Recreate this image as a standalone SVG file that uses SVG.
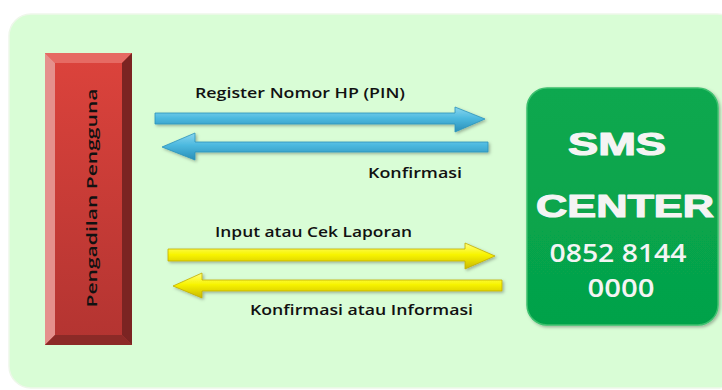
<svg xmlns="http://www.w3.org/2000/svg" width="722" height="390" viewBox="0 0 722 390">
<defs>
<linearGradient id="blue" x1="0" y1="0" x2="0" y2="1">
<stop offset="0" stop-color="#8ad6ef"/>
<stop offset="0.45" stop-color="#4cb9df"/>
<stop offset="1" stop-color="#2a8fb8"/>
</linearGradient>
<linearGradient id="yellow" x1="0" y1="0" x2="0" y2="1">
<stop offset="0" stop-color="#ffff80"/>
<stop offset="0.45" stop-color="#f8f400"/>
<stop offset="1" stop-color="#c9b800"/>
</linearGradient>
<linearGradient id="red" x1="0" y1="0" x2="0" y2="1">
<stop offset="0" stop-color="#dc433c"/>
<stop offset="1" stop-color="#b33431"/>
</linearGradient>
<linearGradient id="green" x1="0" y1="0" x2="0" y2="1">
<stop offset="0" stop-color="#0aa84f"/>
<stop offset="1" stop-color="#05a24a"/>
</linearGradient>
<filter id="sh" x="-10%" y="-10%" width="130%" height="130%">
<feDropShadow dx="1.5" dy="1.5" stdDeviation="1.5" flood-color="#000" flood-opacity="0.3"/>
</filter>
</defs>
<style>
.lbl{font-family:"Open Sans","Liberation Sans",sans-serif;font-weight:600;font-size:15px;fill:#111}
.bl{fill:url(#blue);stroke:#2b93bb;stroke-width:0.8;filter:url(#sh)}
.yl{fill:url(#yellow);stroke:#c2ad00;stroke-width:0.8;filter:url(#sh)}
.big{font-family:"Liberation Sans",Arial,sans-serif;font-weight:900;font-size:32px;fill:#f4f4f4;stroke:#f4f4f4;stroke-width:1.2;stroke-linejoin:round}
.num{font-family:"Open Sans","Liberation Sans",sans-serif;font-weight:600;font-size:25px;fill:#f4f4f4}
</style>
<rect width="722" height="390" fill="#ffffff"/>
<rect x="9" y="14" width="730" height="374" rx="22" fill="#d9fdd6" stroke="#eef7ea" stroke-width="1.5"/>

<g id="pengadilan-pengguna">
<rect x="45" y="53" width="87" height="292" fill="url(#red)"/>
<polygon points="45,53 132,53 122,63 55,63" fill="#e66a63"/>
<polygon points="45,53 55,63 55,335 45,345" fill="#e5908c"/>
<polygon points="132,53 132,345 122,335 122,63" fill="#7b2422"/>
<polygon points="45,345 55,335 122,335 132,345" fill="#8c2a27"/>
<text class="lbl" transform="translate(97,198) rotate(-90)" text-anchor="middle" font-size="20" textLength="219" lengthAdjust="spacingAndGlyphs">Pengadilan Pengguna</text>
</g>

<g id="sms-center">
<rect x="527" y="88" width="191" height="237" rx="20" fill="url(#green)" stroke="#3cc06e" stroke-width="1.5" filter="url(#sh)"/>
<text class="big" x="617" y="155" text-anchor="middle" textLength="98" lengthAdjust="spacingAndGlyphs">SMS</text>
<text class="big" x="625" y="217" text-anchor="middle" textLength="178" lengthAdjust="spacingAndGlyphs">CENTER</text>
<text class="num" x="618" y="262" text-anchor="middle" textLength="137" lengthAdjust="spacingAndGlyphs">0852 8144</text>
<text class="num" x="621" y="297" text-anchor="middle" textLength="67" lengthAdjust="spacingAndGlyphs">0000</text>
</g>

<g id="connectors">
<polygon class="bl" points="155,113 455,113 455,107 485,119 455,132 455,124 155,124"/>
<polygon class="bl" points="488,142 195,142 195,133 162,147 195,160 195,152 488,152"/>
<polygon class="yl" points="168,249 465,249 465,243 495,256 465,269 465,261 168,261"/>
<polygon class="yl" points="502,280 202,280 202,273 173,286 202,298 202,291 502,291"/>
<text class="lbl" x="195" y="98" textLength="210" lengthAdjust="spacingAndGlyphs">Register Nomor HP (PIN)</text>
<text class="lbl" x="368" y="178" textLength="94" lengthAdjust="spacingAndGlyphs">Konfirmasi</text>
<text class="lbl" x="215" y="237" textLength="197" lengthAdjust="spacingAndGlyphs">Input atau Cek Laporan</text>
<text class="lbl" x="250" y="315" textLength="223" lengthAdjust="spacingAndGlyphs">Konfirmasi atau Informasi</text>
</g>
</svg>
